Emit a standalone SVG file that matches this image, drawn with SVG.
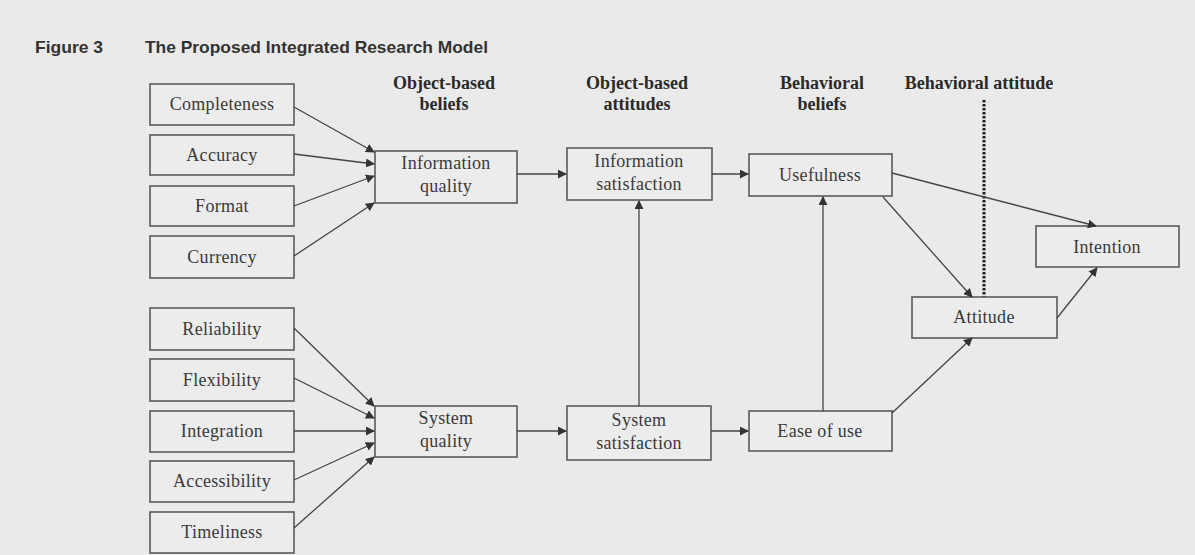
<svg xmlns="http://www.w3.org/2000/svg" width="1195" height="555" viewBox="0 0 1195 555">
  <style>
    .box { fill: #ececec; stroke: #5a5a5a; stroke-width: 1.6; }
    .lbl { font-family: "Liberation Serif", "Times New Roman", serif; font-size: 18px; fill: #3a3a3a; text-anchor: middle; letter-spacing: 0.3px; }
    .hdr { font-family: "Liberation Serif", "Times New Roman", serif; font-size: 18px; font-weight: bold; fill: #2a2a2a; text-anchor: middle; }
    .ttl { font-family: "Liberation Sans", Arial, sans-serif; font-size: 17px; font-weight: bold; fill: #333; }
    .edge { stroke: #444; stroke-width: 1.3; fill: none; marker-end: url(#arr); }
  </style>
  <defs>
    <marker id="arr" viewBox="0 0 10 10" refX="9" refY="5" markerWidth="9" markerHeight="9" markerUnits="userSpaceOnUse" orient="auto">
      <path d="M0,0 L10,5 L0,10 z" fill="#333"/>
    </marker>
  </defs>
  <rect width="1195" height="555" fill="#eaeaea"/>

  <!-- title -->
  <text class="ttl" x="35" y="53" textLength="68" lengthAdjust="spacingAndGlyphs">Figure 3</text>
  <text class="ttl" x="145" y="53" textLength="343" lengthAdjust="spacingAndGlyphs">The Proposed Integrated Research Model</text>

  <!-- column headers -->
  <g id="headers">
    <text class="hdr" x="444" y="89">Object-based</text>
    <text class="hdr" x="444" y="110">beliefs</text>
    <text class="hdr" x="637" y="89">Object-based</text>
    <text class="hdr" x="637" y="110">attitudes</text>
    <text class="hdr" x="822" y="89">Behavioral</text>
    <text class="hdr" x="822" y="110">beliefs</text>
    <text class="hdr" x="979" y="89">Behavioral attitude</text>
  </g>

  <!-- divider between behavioral beliefs and behavioral attitude -->
  <line x1="984" y1="100" x2="984" y2="297" stroke="#222" stroke-width="3" stroke-dasharray="2.5 1.5"/>

  <!-- information quality dimensions -->
  <g id="completeness"><rect class="box" x="150" y="84" width="144" height="41"/><text class="lbl" x="222" y="110">Completeness</text></g>
  <g id="accuracy"><rect class="box" x="150" y="135" width="144" height="40"/><text class="lbl" x="222" y="161">Accuracy</text></g>
  <g id="format"><rect class="box" x="150" y="186" width="144" height="40"/><text class="lbl" x="222" y="212">Format</text></g>
  <g id="currency"><rect class="box" x="150" y="236" width="144" height="42"/><text class="lbl" x="222" y="263">Currency</text></g>

  <!-- system quality dimensions -->
  <g id="reliability"><rect class="box" x="150" y="308" width="144" height="42"/><text class="lbl" x="222" y="335">Reliability</text></g>
  <g id="flexibility"><rect class="box" x="150" y="359" width="144" height="42"/><text class="lbl" x="222" y="386">Flexibility</text></g>
  <g id="integration"><rect class="box" x="150" y="411" width="144" height="41"/><text class="lbl" x="222" y="437">Integration</text></g>
  <g id="accessibility"><rect class="box" x="150" y="461" width="144" height="41"/><text class="lbl" x="222" y="487">Accessibility</text></g>
  <g id="timeliness"><rect class="box" x="150" y="512" width="144" height="41"/><text class="lbl" x="222" y="538">Timeliness</text></g>

  <!-- object-based beliefs -->
  <g id="info-quality"><rect class="box" x="375" y="151" width="142" height="52"/><text class="lbl" x="446" y="169">Information</text><text class="lbl" x="446" y="192">quality</text></g>
  <g id="sys-quality"><rect class="box" x="375" y="406" width="142" height="51"/><text class="lbl" x="446" y="424">System</text><text class="lbl" x="446" y="447">quality</text></g>

  <!-- object-based attitudes -->
  <g id="info-satisfaction"><rect class="box" x="567" y="148" width="145" height="52"/><text class="lbl" x="639" y="167">Information</text><text class="lbl" x="639" y="190">satisfaction</text></g>
  <g id="sys-satisfaction"><rect class="box" x="567" y="406" width="144" height="54"/><text class="lbl" x="639" y="426">System</text><text class="lbl" x="639" y="449">satisfaction</text></g>

  <!-- behavioral beliefs -->
  <g id="usefulness"><rect class="box" x="749" y="154" width="143" height="42"/><text class="lbl" x="820" y="181">Usefulness</text></g>
  <g id="ease-of-use"><rect class="box" x="749" y="411" width="143" height="40"/><text class="lbl" x="820" y="437">Ease of use</text></g>

  <!-- behavioral attitude / intention -->
  <g id="attitude"><rect class="box" x="912" y="297" width="145" height="41"/><text class="lbl" x="984" y="323">Attitude</text></g>
  <g id="intention"><rect class="box" x="1036" y="226" width="143" height="41"/><text class="lbl" x="1107" y="253">Intention</text></g>

  <g id="connectors">
    <line class="edge" x1="294" y1="107" x2="374" y2="152"/>
    <line class="edge" x1="294" y1="154" x2="374" y2="164"/>
    <line class="edge" x1="294" y1="206" x2="374" y2="176"/>
    <line class="edge" x1="294" y1="256" x2="374" y2="203"/>

    <line class="edge" x1="294" y1="328" x2="374" y2="406"/>
    <line class="edge" x1="294" y1="378" x2="374" y2="418"/>
    <line class="edge" x1="294" y1="431" x2="374" y2="431"/>
    <line class="edge" x1="294" y1="480" x2="374" y2="443"/>
    <line class="edge" x1="294" y1="528" x2="374" y2="457"/>

    <line class="edge" x1="517" y1="174" x2="566" y2="174"/>
    <line class="edge" x1="517" y1="431" x2="566" y2="431"/>
    <line class="edge" x1="712" y1="174" x2="748" y2="174"/>
    <line class="edge" x1="711" y1="431" x2="748" y2="431"/>

    <line class="edge" x1="639" y1="406" x2="639" y2="201"/>
    <line class="edge" x1="823" y1="411" x2="823" y2="197"/>

    <line class="edge" x1="892" y1="173" x2="1096" y2="226"/>
    <line class="edge" x1="883" y1="197" x2="972" y2="297"/>
    <line class="edge" x1="892" y1="413" x2="972" y2="338"/>
    <line class="edge" x1="1057" y1="318" x2="1097" y2="268"/>
  </g>
</svg>
